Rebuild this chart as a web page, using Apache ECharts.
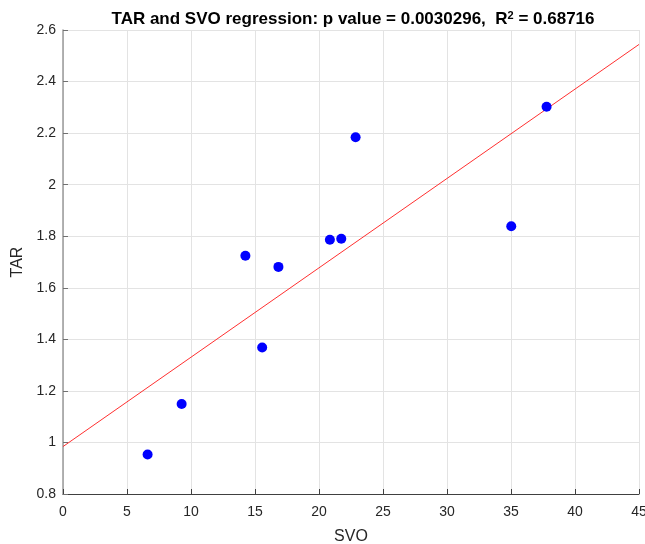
<!DOCTYPE html>
<html>
<head>
<meta charset="utf-8">
<script src="https://cdn.jsdelivr.net/npm/echarts@6/dist/echarts.min.js"></script>
<style>
  * { margin: 0; padding: 0; }
  html, body { background: #fff; overflow: hidden; }
</style>
</head>
<body>
<!-- chart container -->
<div id="main" style="width: 645px;height: 544px;"></div>
<script>
  // SVO / TAR samples
  var svo = [6.61, 9.27, 14.25, 16.83, 15.56, 20.85, 21.74, 22.86, 37.78, 35.02];
  var tar = [0.953, 1.149, 1.724, 1.681, 1.368, 1.786, 1.790, 2.184, 2.302, 1.839];
  // regression line ends (x = 0 and x = 45)
  var fitX = [0, 45];
  var fitY = [0.984, 2.544];

  var points = svo.map(function (v, i) { return [v, tar[i]]; });
  var fitLine = fitX.map(function (v, i) { return [v, fitY[i]]; });

  var axisColor = '#262626';
  var gridColor = '#e3e3e3';
  var font = 'Liberation Sans, Arial, sans-serif';

  var mycharts = echarts.init(document.getElementById('main'));
  var option = {
    animation: false,
    backgroundColor: '#fff',
    title: {
      text: '{a|TAR and SVO regression: p value = 0.0030296,  R}{s|2}{a| = 0.68716}',
      left: 348,
      top: 5,
      textAlign: 'center',
      textStyle: {
        rich: {
          a: { fontFamily: font, fontWeight: 'bold', fontSize: 17, color: '#000' },
          s: { fontFamily: font, fontWeight: 'bold', fontSize: 11, color: '#000', verticalAlign: 'top', padding: [0, 0, 8, 0] }
        }
      }
    },
    grid: {
      left: 63,
      right: 6,
      top: 30,
      bottom: 50,
      outerBoundsMode: 'none',  // v6: keep grid where it is set
      containLabel: false
    },
    xAxis: {
      type: 'value',
      min: 0,
      max: 45,
      interval: 5,
      name: 'SVO',
      nameLocation: 'middle',
      nameGap: 35,
      nameTextStyle: { color: axisColor, fontSize: 16, fontFamily: font },
      axisLine: { show: true, lineStyle: { color: '#404040', width: 1 } },
      axisTick: { show: true, inside: true, length: 5, lineStyle: { color: '#404040' } },
      axisLabel: { color: axisColor, fontSize: 14, fontFamily: font, margin: 11, showMaxLabel: true },
      splitLine: { show: true, lineStyle: { color: gridColor, width: 1 } }
    },
    yAxis: {
      type: 'value',
      min: 0.8,
      max: 2.6,
      interval: 0.2,
      name: 'TAR',
      nameLocation: 'middle',
      nameGap: 27,
      nameRotate: 90,
      nameTextStyle: { color: axisColor, fontSize: 16, fontFamily: font },
      axisLine: { show: true, lineStyle: { color: '#9a9a9a', width: 1.5 } },
      axisTick: { show: true, inside: true, length: 5, lineStyle: { color: '#707070' } },
      axisLabel: {
        color: axisColor, fontSize: 14, fontFamily: font, margin: 7,
        formatter: function (v) { return String(Math.round(v * 10) / 10); }
      },
      splitLine: { show: true, lineStyle: { color: gridColor, width: 1 } }
    },
    series: [
      {
        type: 'line',
        data: fitLine,
        symbol: 'none',
        lineStyle: { color: '#ff3030', width: 1 },
        z: 2
      },
      {
        type: 'scatter',
        data: points,
        symbol: 'circle',
        symbolSize: 10,
        itemStyle: { color: '#0000ff', opacity: 1 },
        z: 3
      }
    ]
  };
  mycharts.setOption(option);
</script>
</body>
</html>
